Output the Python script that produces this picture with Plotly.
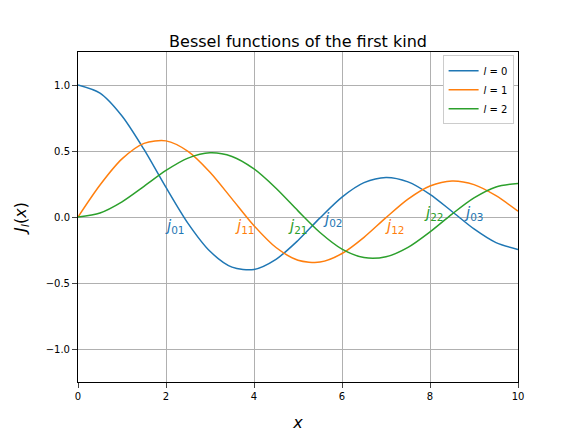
import plotly.graph_objects as go

x = [0, 0.5, 1, 1.5, 2, 2.5, 3, 3.5, 4, 4.5, 5, 5.5, 6, 6.5, 7, 7.5, 8, 8.5, 9, 9.5, 10]
j0 = [1.0, 0.9385, 0.7652, 0.5118, 0.2239, -0.0484, -0.2601, -0.3801, -0.3971, -0.3205, -0.1776,
      -0.0068, 0.1506, 0.2601, 0.3001, 0.2663, 0.1717, 0.0419, -0.0903, -0.1939, -0.2459]
j1 = [0.0, 0.2423, 0.4401, 0.5579, 0.5767, 0.4971, 0.3391, 0.1374, -0.0660, -0.2311, -0.3276,
      -0.3414, -0.2767, -0.1538, -0.0047, 0.1352, 0.2346, 0.2731, 0.2453, 0.1613, 0.0435]
j2 = [0.0, 0.0306, 0.1149, 0.2321, 0.3528, 0.4461, 0.4861, 0.4586, 0.3641, 0.2178, 0.0466,
      -0.1173, -0.2429, -0.3074, -0.3014, -0.2303, -0.1130, 0.0223, 0.1448, 0.2279, 0.2546]

series = [(j0, 'l = 0'), (j1, 'l = 1'), (j2, 'l = 2')]
colors = ['#1f77b4', '#ff7f0e', '#2ca02c']

# zero labels: (text, x, y, series index)
zero_labels = [('01', 2.2, -0.07, 0), ('11', 3.8, -0.07, 1), ('21', 5.0, -0.07, 2),
               ('02', 5.8, -0.02, 0), ('12', 7.2, -0.07, 1), ('22', 8.1, 0.03, 2),
               ('03', 9.0, 0.03, 0)]

fig = go.Figure()
for (y, name), c in zip(series, colors):
    l, v = name.split(' = ')
    fig.add_trace(go.Scatter(x=x, y=y, mode='lines',
                             line=dict(color=c, width=1.5, shape='spline', smoothing=0.8),
                             name=f'<i>{l}</i> = {v}'))

for t, xa, ya, i in zero_labels:
    fig.add_annotation(x=xa, y=ya, text=f'<i>j</i><sub>{t}</sub>', showarrow=False,
                       font=dict(size=15, color=colors[i]))

axis = dict(showgrid=True, gridcolor='#b0b0b0', zeroline=False, showline=True, linecolor='black',
            mirror=True, ticks='outside', tickfont=dict(size=10, color='black'))
fig.update_layout(
    width=576, height=432, plot_bgcolor='white', paper_bgcolor='white',
    font=dict(family='DejaVu Sans', color='black'),
    margin=dict(l=64, r=66, t=44, b=50),
    title=dict(text='Bessel functions of the first kind', x=0.5, xref='paper', y=0.91,
               yanchor='bottom', font=dict(size=16)),
    xaxis=dict(axis, range=[0, 10], dtick=2, title=dict(text='<i>x</i>', font=dict(size=16))),
    yaxis=dict(axis, range=[-1.25, 1.25], tickvals=[-1, -0.5, 0, 0.5, 1],
               ticktext=['−1.0', '−0.5', '0.0', '0.5', '1.0'],
               title=dict(text='<i>J<sub>l</sub></i>(<i>x</i>)', font=dict(size=16))),
    legend=dict(x=0.99, y=0.99, xanchor='right', yanchor='top', bordercolor='#cccccc',
                borderwidth=1, font=dict(size=10)),
)
fig.write_html("out.html")
